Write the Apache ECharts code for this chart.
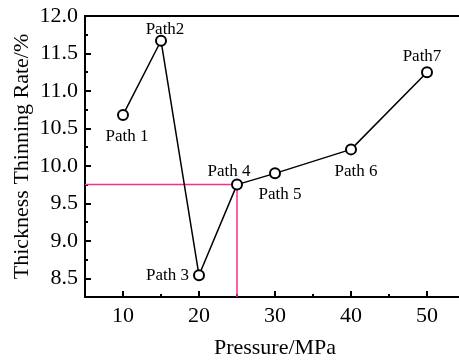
<!DOCTYPE html>
<html>
<head>
<meta charset="utf-8">
<script src="https://cdn.jsdelivr.net/npm/echarts@6/dist/echarts.min.js"></script>
<style>
	html, body { margin: 0; padding: 0; background: #fff; }
	#main { width: 459px; height: 362px; }
</style>
</head>
<body>
<div id="main"></div>
<script>
// pressure (MPa) and thickness thinning rate (%) of each path
var pressure = [10, 15, 20, 25, 30, 40, 50];
var thinning = [10.68, 11.67, 8.54, 9.75, 9.90, 10.22, 11.25];
var pathNames = ['Path 1', 'Path2', 'Path 3', 'Path 4', 'Path 5', 'Path 6', 'Path7'];

// pink guide line for Path 4
var guideX = [5, 25, 25];
var guideY = [9.75, 9.75, 8.25];

var xMajor = [10, 20, 30, 40, 50];
var xMinor = [15, 25, 35, 45];
var yMajor = [8.5, 9.0, 9.5, 10.0, 10.5, 11.0, 11.5, 12.0];
var yMinor = [8.25, 8.75, 9.25, 9.75, 10.25, 10.75, 11.25, 11.75];

var font = 'Liberation Serif';

// label placement per point
var labelPos = [
	{ position : 'bottom', offset : [ 4, 3 ] },
	{ position : 'top', offset : [ 4, 7 ] },
	{ position : 'left', offset : [ 0, 0 ] },
	{ position : 'top', offset : [ -8, 5 ] },
	{ position : 'bottom', offset : [ 5, 3 ] },
	{ position : 'bottom', offset : [ 5, 4 ] },
	{ position : 'top', offset : [ -5, 3 ] }
];

var points = [];
for (var i = 0; i < pressure.length; i++) {
	points.push({
		value : [ pressure[i], thinning[i] ],
		label : {
			show : true,
			formatter : pathNames[i],
			position : labelPos[i].position,
			offset : labelPos[i].offset
		}
	});
}

var guide = [];
for (var j = 0; j < guideX.length; j++) {
	guide.push([ guideX[j], guideY[j] ]);
}

var chart = echarts.init(document.getElementById('main'));

var option = {
	animation : false,
	backgroundColor : '#fff',
	textStyle : { fontFamily : font },
	grid : {
		left : 85,
		top : 16,
		width : 380,
		bottom : 65,
		show : true,
		borderColor : '#000',
		borderWidth : 2,
		containLabel : false,
		outerBoundsMode : 'none'
	},
	xAxis : [ {
		type : 'value',
		min : 5,
		max : 55,
		name : 'Pressure/MPa',
		nameLocation : 'middle',
		nameGap : 40,
		nameMoveOverlap : false,
		nameTextStyle : { fontFamily : font, fontSize : 22, color : '#000' },
		axisLine : { lineStyle : { color : '#000', width : 2 } },
		axisTick : { inside : true, length : 6, customValues : xMajor, lineStyle : { color : '#000', width : 2 } },
		axisLabel : { customValues : xMajor, margin : 8, fontFamily : font, fontSize : 22, color : '#000' },
		splitLine : { show : false }
	}, {
		type : 'value',
		min : 5,
		max : 55,
		position : 'bottom',
		axisLine : { show : false },
		axisTick : { inside : true, length : 3, customValues : xMinor, lineStyle : { color : '#000', width : 2 } },
		axisLabel : { show : false },
		splitLine : { show : false }
	} ],
	yAxis : [ {
		type : 'value',
		min : 8.25,
		max : 12,
		name : 'Thickness Thinning Rate/%',
		nameLocation : 'middle',
		nameGap : 52,
		nameMoveOverlap : false,
		nameTextStyle : { fontFamily : font, fontSize : 22, color : '#000' },
		axisLine : { show : true, lineStyle : { color : '#000', width : 2 } },
		axisTick : { show : true, inside : true, length : 6, customValues : yMajor, lineStyle : { color : '#000', width : 2 } },
		axisLabel : {
			customValues : yMajor,
			margin : 7,
			fontFamily : font,
			fontSize : 22,
			color : '#000',
			formatter : function(v) {
				return v.toFixed(1);
			}
		},
		splitLine : { show : false }
	}, {
		type : 'value',
		min : 8.25,
		max : 12,
		position : 'left',
		axisLine : { show : false },
		axisTick : { show : true, inside : true, length : 3, customValues : yMinor, lineStyle : { color : '#000', width : 2 } },
		axisLabel : { show : false },
		splitLine : { show : false }
	} ],
	series : [ {
		name : 'guide',
		type : 'line',
		data : guide,
		showSymbol : false,
		symbol : 'none',
		z : 1,
		lineStyle : { color : '#ff2a8f', width : 1.5 }
	}, {
		name : 'thinning',
		type : 'line',
		data : points,
		symbol : 'circle',
		symbolSize : 10,
		z : 3,
		itemStyle : { color : '#fff', borderColor : '#000', borderWidth : 2 },
		lineStyle : { color : '#000', width : 1.5 },
		label : { fontFamily : font, fontSize : 17, color : '#000', distance : 4 }
	} ]
};

chart.setOption(option);
</script>
</body>
</html>
